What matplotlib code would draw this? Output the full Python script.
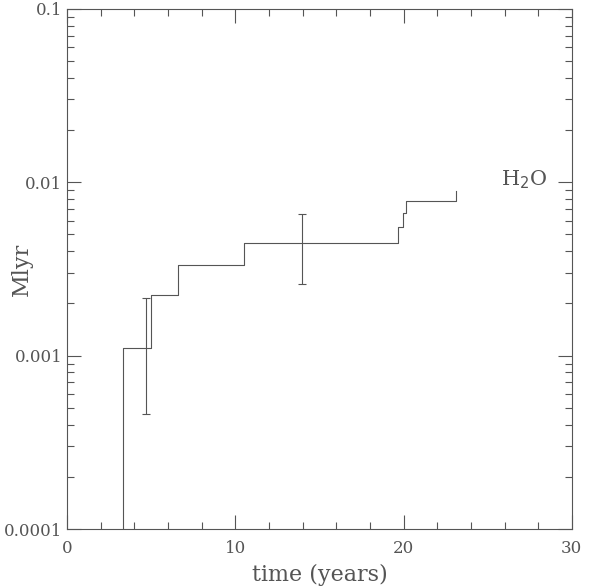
import matplotlib.pyplot as plt
from matplotlib.ticker import FixedLocator, FixedFormatter, MultipleLocator, LogLocator, NullFormatter

# cumulative step curve (time in years, Mlyr)
step_x = [3.33, 3.33, 4.98, 6.56, 10.52, 19.68, 19.94, 20.12, 23.11]
step_y = [0.0001, 0.00111, 0.00223, 0.00332, 0.00445, 0.00554, 0.00668, 0.00777, 0.0089]

# error bars
err_x = [4.68, 13.98]
err_y = [0.000993, 0.00411]
err_lo = [0.000461, 0.00259]
err_hi = [0.00214, 0.00653]

ytick_vals = [0.0001, 0.001, 0.01, 0.1]
ytick_labels = ["0.0001", "0.001", "0.01", "0.1"]

grey = "#555555"
plt.rcParams['font.family'] = 'DejaVu Serif'

fig = plt.figure(figsize=(6, 5.88), dpi=100)
ax = fig.add_axes([0.112, 0.1003, 0.841, 0.8847])

ax.step(step_x, step_y, where='post', color=grey, lw=0.8)
lo = [y - l for y, l in zip(err_y, err_lo)]
hi = [h - y for y, h in zip(err_y, err_hi)]
ax.errorbar(err_x, err_y, yerr=[lo, hi], fmt='none', ecolor=grey, elinewidth=0.8, capsize=3, capthick=0.8)

ax.set_yscale('log')
ax.set_xlim(0, 30)
ax.set_ylim(0.0001, 0.1)
ax.xaxis.set_major_locator(MultipleLocator(10))
ax.xaxis.set_minor_locator(MultipleLocator(2))
ax.yaxis.set_major_locator(FixedLocator(ytick_vals))
ax.yaxis.set_major_formatter(FixedFormatter(ytick_labels))
ax.yaxis.set_minor_locator(LogLocator(base=10, subs=range(2, 10)))
ax.yaxis.set_minor_formatter(NullFormatter())

ax.tick_params(which='both', direction='in', top=True, right=True, colors=grey, labelsize=12, width=0.8)
ax.tick_params(which='major', length=10)
ax.tick_params(which='minor', length=5)
ax.tick_params(axis='x', pad=8)
for s in ax.spines.values():
    s.set_color(grey)
    s.set_linewidth(0.8)

ax.text(25.8, 0.0103, r"H$_2$O", color=grey, fontsize=15, va='center', ha='left')
ax.set_xlabel("time (years)", color=grey, fontsize=16, labelpad=5)
ax.set_ylabel("Mlyr", color=grey, fontsize=16, va='center')
ax.yaxis.set_label_coords(-0.089, 0.5)

fig.savefig("out.png", dpi=100)
